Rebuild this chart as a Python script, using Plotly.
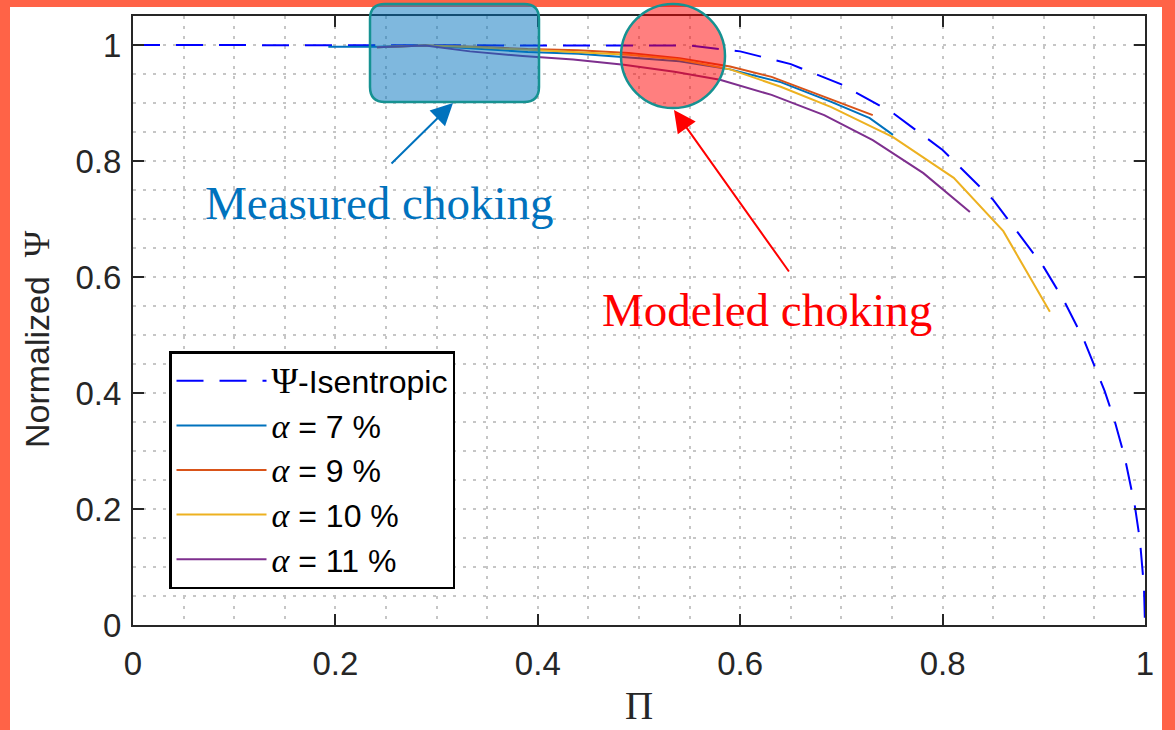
import plotly.graph_objects as go

# ---------------- data ----------------
pi_isen = [0.0, 0.1, 0.2, 0.3, 0.4, 0.5, 0.528, 0.55, 0.6, 0.65, 0.7, 0.75, 0.8,
           0.85, 0.9, 0.92, 0.94, 0.96, 0.97, 0.98, 0.99, 0.995, 0.999, 1.0]
psi_isen = [1.0, 1.0, 1.0, 1.0, 1.0, 1.0, 1.0, 0.999, 0.989, 0.967, 0.932, 0.884, 0.819,
            0.733, 0.617, 0.559, 0.490, 0.404, 0.352, 0.289, 0.205, 0.146, 0.065, 0.0]

pi_a7 = [0.193, 0.241, 0.289, 0.34, 0.39, 0.44, 0.49, 0.54, 0.59, 0.64, 0.69, 0.728, 0.751]
psi_a7 = [0.997, 0.997, 0.999, 0.994, 0.988, 0.985, 0.979, 0.972, 0.958, 0.936, 0.902, 0.874, 0.845]

pi_a9 = [0.241, 0.289, 0.34, 0.39, 0.44, 0.49, 0.54, 0.59, 0.631, 0.683, 0.731]
psi_a9 = [0.996, 0.999, 0.997, 0.993, 0.991, 0.986, 0.977, 0.963, 0.945, 0.910, 0.879]

pi_a10 = [0.241, 0.289, 0.34, 0.39, 0.44, 0.49, 0.54, 0.59, 0.64, 0.69, 0.751, 0.811, 0.860, 0.906]
psi_a10 = [0.996, 0.999, 0.996, 0.992, 0.988, 0.983, 0.975, 0.958, 0.928, 0.893, 0.841, 0.771, 0.679, 0.540]

pi_a11 = [0.241, 0.289, 0.333, 0.385, 0.435, 0.485, 0.535, 0.58, 0.631, 0.683, 0.731, 0.781, 0.827]
psi_a11 = [0.996, 0.999, 0.989, 0.981, 0.975, 0.966, 0.954, 0.940, 0.914, 0.879, 0.836, 0.779, 0.712]

x_ticks = [0, 0.2, 0.4, 0.6, 0.8, 1]
y_ticks = [0, 0.2, 0.4, 0.6, 0.8, 1]
x_tick_text = ["0", "0.2", "0.4", "0.6", "0.8", "1"]
y_tick_text = ["0", "0.2", "0.4", "0.6", "0.8", "1"]

SERIF = "Liberation Serif, Times New Roman, serif"
SANS = "Liberation Sans, Arial, sans-serif"
AX = "rgb(38,38,38)"

def serif(s, italic=False, size=None):
    st = "font-family:Liberation Serif" + (";font-style:italic" if italic else "")
    if size:
        st += ";font-size:%dpx" % size
    return '<span style="%s">%s</span>' % (st, s)

fig = go.Figure()
fig.add_trace(go.Scatter(x=pi_isen, y=psi_isen, mode="lines",
                         name=serif("Ψ", size=36) + "-Isentropic",
                         line=dict(color="rgb(0,0,255)", width=2, dash="27px,16px")))
series = [(pi_a7, psi_a7, "7", "rgb(0,114,189)"),
          (pi_a9, psi_a9, "9", "rgb(217,83,25)"),
          (pi_a10, psi_a10, "10", "rgb(237,177,32)"),
          (pi_a11, psi_a11, "11", "rgb(126,47,142)")]
for xs, ys, lab, col in series:
    fig.add_trace(go.Scatter(x=xs, y=ys, mode="lines",
                             name=serif("α", True, 34) + " = " + lab + " %",
                             line=dict(color=col, width=2)))

# ---------------- layout geometry (pixels) ----------------
W, H = 1175, 730
L, R, T, B = 133, 1145, 16, 625
pw, ph = R - L, B - T

def px(x):
    return (x - L) / pw

def py(y):
    return (B - y) / ph

shapes = []
# white page inside the orange frame
shapes.append(dict(type="rect", xref="paper", yref="paper", layer="below",
                   x0=px(10), x1=px(1162), y0=py(760), y1=py(7),
                   fillcolor="white", line=dict(width=0)))
# rounded rectangle (measured choking)
x0, x1, y0, y1 = px(370), px(539), py(102), py(4)
rx, ry = 15 / pw, 15 / ph
path = ("M{a},{y0} L{b},{y0} Q{x1},{y0} {x1},{c} L{x1},{d} Q{x1},{y1} {b},{y1} "
        "L{a},{y1} Q{x0},{y1} {x0},{d} L{x0},{c} Q{x0},{y0} {a},{y0} Z").format(
    a=x0 + rx, b=x1 - rx, c=y0 + ry, d=y1 - ry, x0=x0, x1=x1, y0=y0, y1=y1)
shapes.append(dict(type="path", xref="paper", yref="paper", layer="above", path=path,
                   fillcolor="rgba(0,114,189,0.5)",
                   line=dict(color="rgb(22,146,146)", width=2.5)))
# circle (modeled choking)
shapes.append(dict(type="circle", xref="paper", yref="paper", layer="above",
                   x0=px(621), x1=px(725), y0=py(108), y1=py(4),
                   fillcolor="rgba(255,0,0,0.5)",
                   line=dict(color="rgb(22,146,146)", width=2.5)))

annotations = [
    dict(xref="paper", yref="paper", x=px(453), y=py(103), text="", showarrow=True,
         ax=390 - 453, ay=165 - 103, arrowhead=2, arrowsize=2.2, arrowwidth=2,
         arrowcolor="rgb(0,114,189)"),
    dict(xref="paper", yref="paper", x=px(674), y=py(110), text="", showarrow=True,
         ax=790 - 674, ay=273 - 110, arrowhead=2, arrowsize=2.2, arrowwidth=2,
         arrowcolor="rgb(255,0,0)"),
    dict(xref="paper", yref="paper", x=px(379), y=py(203), text="Measured choking",
         showarrow=False, xanchor="center", yanchor="middle",
         font=dict(family=SERIF, size=47, color="rgb(0,114,189)")),
    dict(xref="paper", yref="paper", x=px(767), y=py(310), text="Modeled choking",
         showarrow=False, xanchor="center", yanchor="middle",
         font=dict(family=SERIF, size=47, color="rgb(255,0,0)")),
    # axis titles
    dict(xref="paper", yref="paper", x=px(639), y=py(729), text="Π",
         showarrow=False, xanchor="center", yanchor="bottom",
         font=dict(family=SERIF, size=39, color=AX)),
    dict(xref="paper", yref="paper", x=px(37), y=py(339),
         text="Normalized  " + serif("Ψ", size=36), textangle=-90,
         showarrow=False, xanchor="center", yanchor="middle",
         font=dict(family=SANS, size=34, color=AX)),
]

grid_common = dict(gridcolor="rgb(198,198,198)", gridwidth=1.5, griddash="3px,7px")

fig.update_layout(
    width=W, height=H,
    margin=dict(l=L, r=W - R, t=T, b=H - B, pad=0, autoexpand=False),
    paper_bgcolor="rgb(255,99,71)",
    plot_bgcolor="white",
    font=dict(family=SANS, size=32, color=AX),
    shapes=shapes,
    annotations=annotations,
    showlegend=True,
    legend=dict(x=px(169), y=py(351), xanchor="left", yanchor="top",
                bgcolor="white", bordercolor="black", borderwidth=2.5,
                font=dict(family=SANS, size=32, color="black"),
                tracegroupgap=0, itemwidth=90),
    xaxis=dict(range=[0, 1], tickvals=x_ticks, ticktext=x_tick_text,
               ticks="inside", ticklen=11, tickwidth=2, tickcolor=AX,
               showline=True, linecolor=AX, linewidth=2, mirror="allticks",
               zeroline=False, showgrid=True, ticklabelstandoff=8, automargin=False,
               tickfont=dict(size=33),
               minor=dict(dtick=0.05, showgrid=True, ticks="", **grid_common),
               **grid_common),
    yaxis=dict(range=[0, 1.05], tickvals=y_ticks, ticktext=y_tick_text,
               ticks="inside", ticklen=11, tickwidth=2, tickcolor=AX,
               showline=True, linecolor=AX, linewidth=2, mirror="allticks",
               zeroline=False, showgrid=True, ticklabelstandoff=3, automargin=False,
               tickfont=dict(size=33),
               minor=dict(dtick=0.05, showgrid=True, ticks="", **grid_common),
               **grid_common),
)

fig.write_html("out.html")
